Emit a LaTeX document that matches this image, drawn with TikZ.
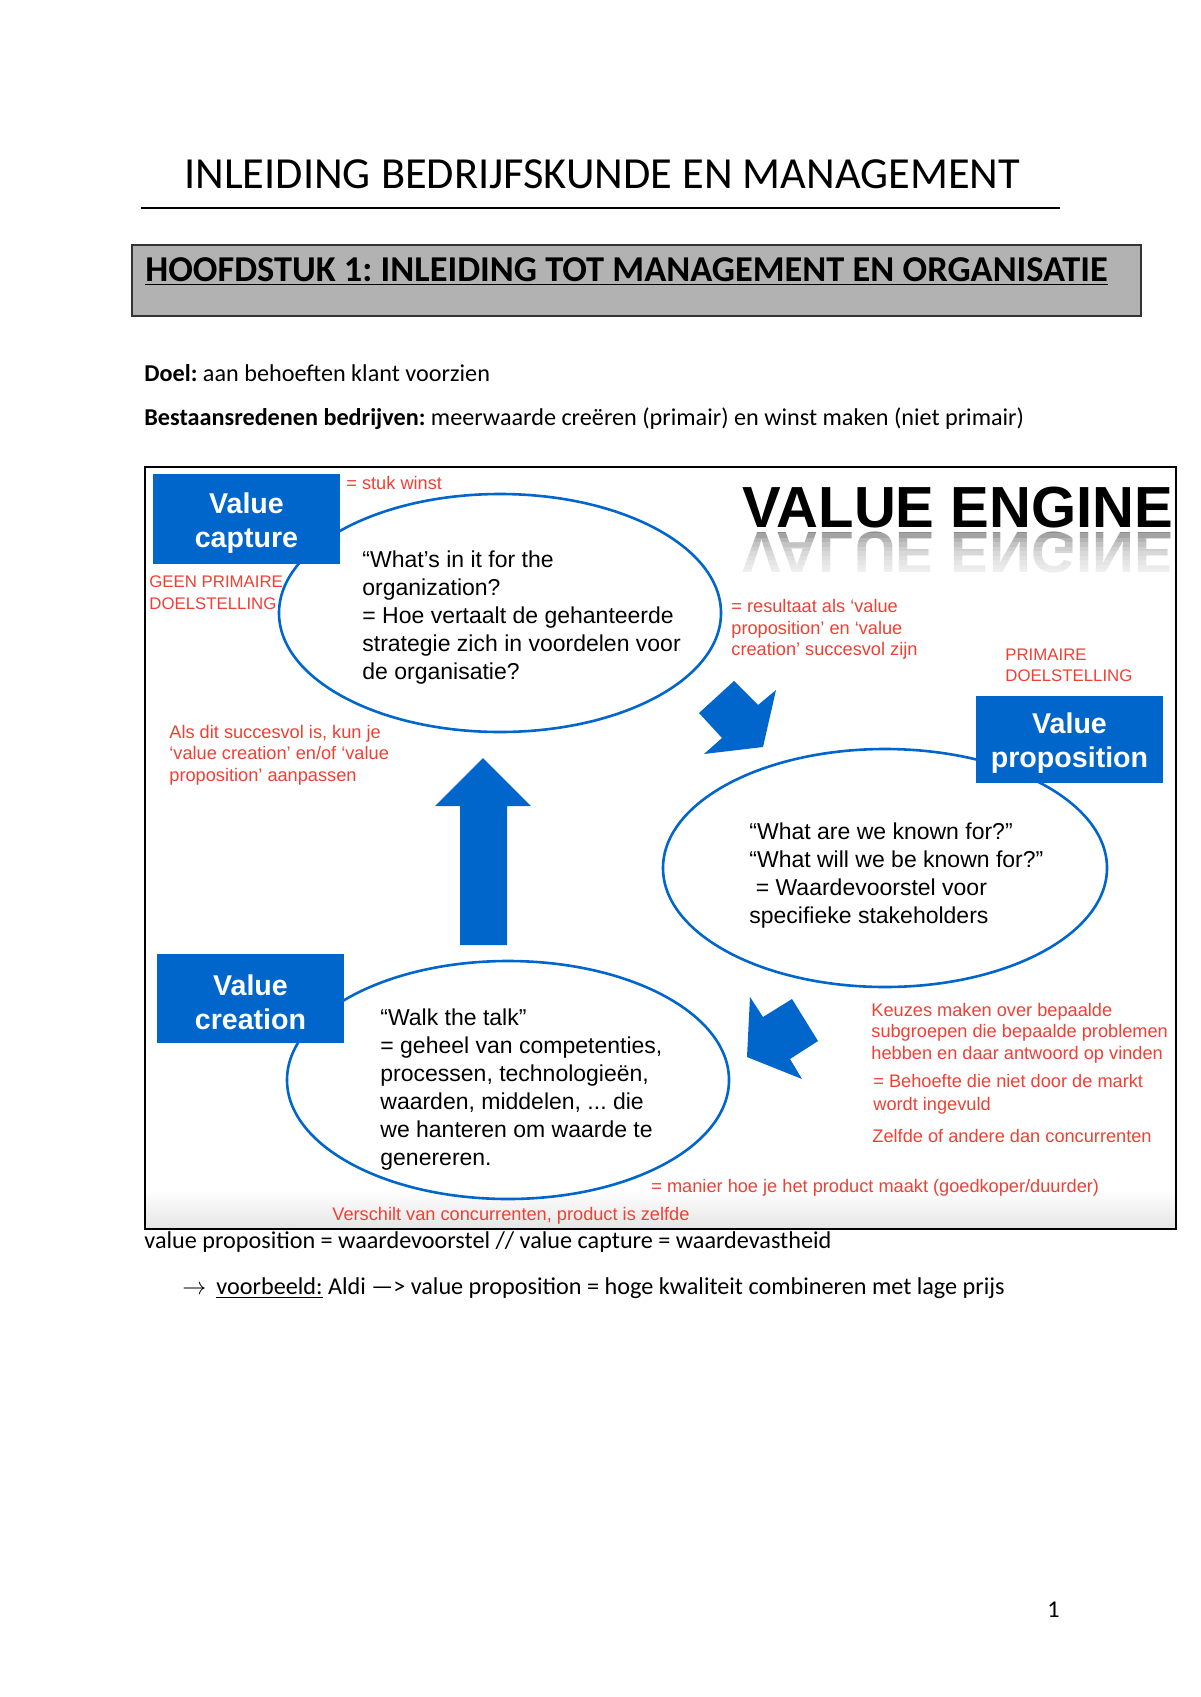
\documentclass[tikz,border=0pt]{standalone}
\usepackage{fontspec}
\setmainfont{Carlito}
\newfontfamily\arialfont{Liberation Sans}
\usetikzlibrary{shapes.geometric}
\definecolor{vblue}{RGB}{0,102,204}
\definecolor{annored}{RGB}{240,64,52}
\frenchspacing

\begin{document}
\begin{tikzpicture}[x=0.5pt, y=-0.5pt,
    body/.style={anchor=base west, inner sep=0, font=\fontsize{12.1}{14}\selectfont},
    annot/.style={anchor=base west, inner sep=0, text=annored, font=\arialfont\fontsize{9.1}{11}\selectfont},
    capsnote/.style={annot, font=\arialfont\fontsize{8.4}{10}\selectfont},
    inner/.style={anchor=base west, inner sep=0, font=\arialfont\fontsize{11.5}{14}\selectfont},
    engine/.style={anchor=base west, inner sep=0, font=\arialfont\bfseries\fontsize{29}{30}\selectfont},
    vbox/.style={fill=vblue, inner sep=0, minimum width=93.5pt},
    vlabel/.style={text=white, align=center, inner sep=0, font=\arialfont\bfseries\fontsize{14.3}{17}\selectfont},
    bubble/.style={ellipse, draw=vblue, line width=1.3pt, inner sep=0, minimum width=221pt, minimum height=119pt},
    bigarrow/.style={fill=vblue}]

    \useasboundingbox[fill=white] (0,0) rectangle (1200,1697);

    % Page heading
    \node[body, font=\fontsize{22.2}{26}\selectfont] (title) at (184,188) {INLEIDING BEDRIJFSKUNDE EN MANAGEMENT};
    \draw[line width=0.75pt] (141,208) -- (1060,208);
    \draw[fill=black!30, draw=black!80, line width=0.6pt] (132,245) rectangle (1141,316);
    \node[body, font=\bfseries\fontsize{18.2}{21}\selectfont] (chapter) at (145,281) {\underline{HOOFDSTUK 1: INLEIDING TOT MANAGEMENT EN ORGANISATIE}};
    \node[body] (goal) at (144,381) {\textbf{Doel:} aan behoeften klant voorzien};
    \node[body] (reasons) at (144,425) {\textbf{Bestaansredenen bedrijven:} meerwaarde creëren (primair) en winst maken (niet primair)};

    % Frame of the value engine
    \shade[top color=white, bottom color=black!10] (146,1190) rectangle (1175,1228);
    \draw[line width=1pt] (145,467) rectangle (1176,1229);

    % Title with its reflection
    \node[engine] (engine) at (742,527) {VALUE ENGINE};
    \node[engine, yscale=-1, text=black!45] (engine mirror) at (742,532) {VALUE ENGINE};
    \foreach \k in {0,...,9} {
        \fill[white, opacity=0.2] (738,{533+4.5*\k}) rectangle (1172,582);
    }

    % Ellipses
    \node[bubble] (capture ell) at (500,613) {};
    \node[bubble, minimum width=222pt] (proposition ell) at (885,868) {};
    \node[bubble] (creation ell) at (508,1080) {};

    % Blue boxes
    \node[vbox, minimum height=45pt] (capture) at (246.5,519) {};
    \node[vbox, minimum height=43.5pt] (proposition) at (1069.5,739.5) {};
    \node[vbox, minimum height=44.5pt] (creation) at (250.5,998.5) {};
    \node[vlabel] (capture text) at ([yshift=-2.2pt]capture.center) {Value\\capture};
    \node[vlabel] (proposition text) at ([yshift=-2pt]proposition.center) {Value\\proposition};
    \node[vlabel] (creation text) at ([yshift=-2pt]creation.center) {Value\\creation};

    % Big arrows
    \fill[bigarrow] (699,713) -- (734,681) -- (758,705) -- (776,690) -- (763,747) -- (704,754) -- (722,738) -- cycle;
    \fill[bigarrow] (750,997) -- (763,1017) -- (792,999) -- (818,1041) -- (790,1059) -- (802,1079) -- (747,1057) -- cycle;
    \fill[bigarrow] (460,945) -- (460,806) -- (435,806) -- (483,758) -- (531,806) -- (507,806) -- (507,945) -- cycle;

    % Text in the ellipses
    \foreach \i/\t in {1/{“What’s in it for the}, 2/{organization?}, 3/{= Hoe vertaalt de gehanteerde},
                       4/{strategie zich in voordelen voor}, 5/{de organisatie?}} {
        \node[inner] (capture line\i) at (362,{567+28.2*(\i-1)}) {\t};
    }
    \foreach \i/\t in {1/{“What are we known for?”}, 2/{“What will we be known for?”},
                       3/{\ = Waardevoorstel voor}, 4/{specifieke stakeholders}} {
        \node[inner] (proposition line\i) at (749,{839+28*(\i-1)}) {\t};
    }
    \foreach \i/\t in {1/{“Walk the talk”}, 2/{= geheel van competenties,}, 3/{processen, technologieën,},
                       4/{waarden, middelen, ... die}, 5/{we hanteren om waarde te}, 6/{genereren.}} {
        \node[inner] (creation line\i) at (380,{1025+28*(\i-1)}) {\t};
    }

    % Red notes
    \foreach \n/\x/\y/\t in {geen a/149/587/{GEEN PRIMAIRE}, geen b/149/609/{DOELSTELLING},
                             prim a/1005/660/{PRIMAIRE}, prim b/1005/681/{DOELSTELLING}} {
        \node[capsnote] (\n) at (\x,\y) {\t};
    }
    \foreach \n/\x/\y/\t in {winst/346/489/{= stuk winst},
                             result a/731/612/{= resultaat als ‘value}, result b/731/634/{proposition’ en ‘value},
                             result c/731/655/{creation’ succesvol zijn},
                             adapt a/169/738/{Als dit succesvol is, kun je}, adapt b/169/759/{‘value creation’ en/of ‘value},
                             adapt c/169/781/{proposition’ aanpassen},
                             choice a/871/1016/{Keuzes maken over bepaalde}, choice b/871/1037/{subgroepen die bepaalde problemen},
                             choice c/871/1059/{hebben en daar antwoord op vinden},
                             need a/873/1087/{= Behoefte die niet door de markt}, need b/873/1110/{wordt ingevuld},
                             same/872/1142/{Zelfde of andere dan concurrenten},
                             manner/651/1192/{= manier hoe je het product maakt (goedkoper/duurder)},
                             differ/332/1220/{Verschilt van concurrenten, product is zelfde}} {
        \node[annot] (\n) at (\x,\y) {\t};
    }

    % Below the picture
    \node[body] (glossary) at (144,1248) {value proposition = waardevoorstel // value capture = waardevastheid};
    \node[body] (example arrow) at (182,1294) {$\rightarrow$};
    \node[body] (example) at (216,1294) {\underline{voorbeeld:} Aldi —> value proposition = hoge kwaliteit combineren met lage prijs};
    \node[body] (page) at (1047,1617) {1};

\end{tikzpicture}
\end{document}
